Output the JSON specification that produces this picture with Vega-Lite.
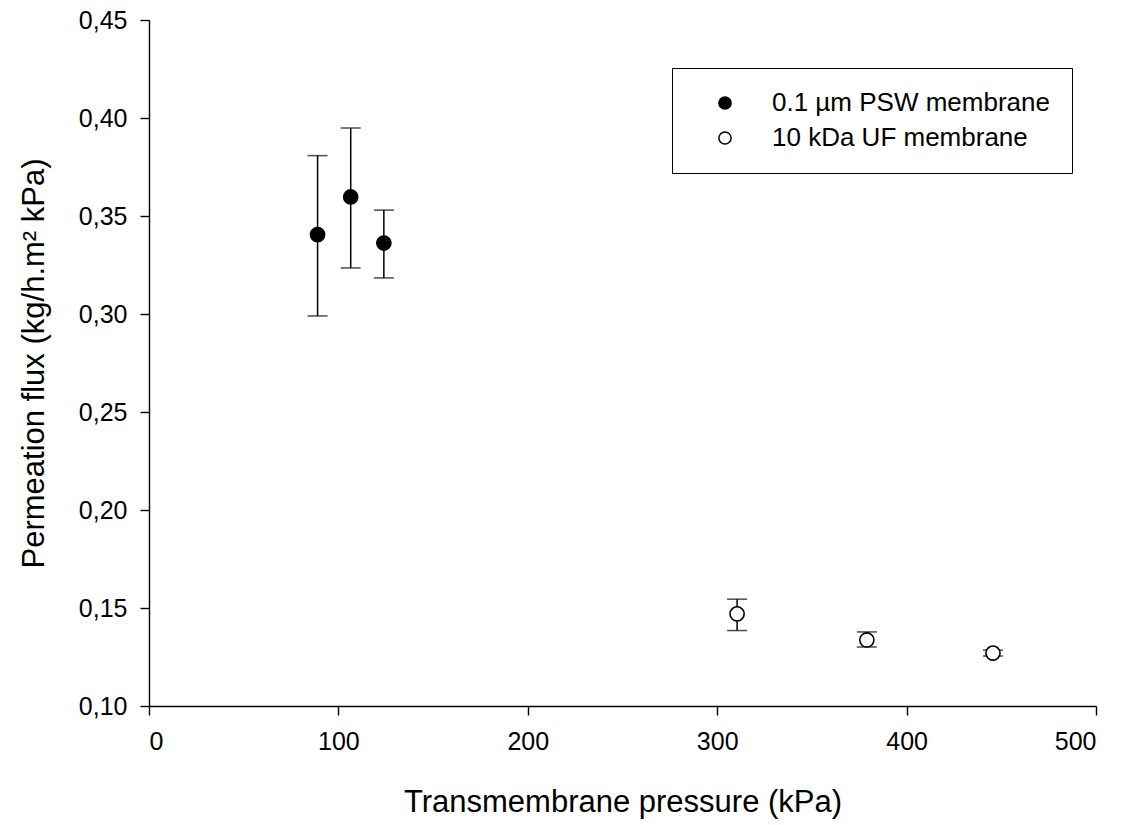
{
  "$schema": "https://vega.github.io/schema/vega-lite/v6.json",
  "autosize": {"type": "none"},
  "padding": {"left": 149, "top": 20, "right": 31, "bottom": 119},
  "width": 947,
  "height": 686,
  "background": "white",
  "config": {
    "font": "Liberation Sans",
    "view": {"stroke": null},
    "axis": {
      "grid": false,
      "domainColor": "black",
      "domainWidth": 1.4,
      "tickColor": "black",
      "tickWidth": 1.4,
      "tickSize": 9,
      "labelColor": "black",
      "labelFontSize": 25,
      "labelFont": "Liberation Sans",
      "titleFont": "Liberation Sans",
      "titleFontSize": 31,
      "titleFontWeight": "normal",
      "titleColor": "black"
    }
  },
  "data": {
    "values": [
      {"membrane": "0.1 µm PSW membrane", "pressure": 89, "flux": 0.3405, "lo": 0.299, "hi": 0.3808},
      {"membrane": "0.1 µm PSW membrane", "pressure": 106.5, "flux": 0.3597, "lo": 0.3235, "hi": 0.3949},
      {"membrane": "0.1 µm PSW membrane", "pressure": 124, "flux": 0.3362, "lo": 0.3184, "hi": 0.353},
      {"membrane": "10 kDa UF membrane", "pressure": 310.5, "flux": 0.147, "lo": 0.1385, "hi": 0.1545},
      {"membrane": "10 kDa UF membrane", "pressure": 379, "flux": 0.1337, "lo": 0.1301, "hi": 0.1378},
      {"membrane": "10 kDa UF membrane", "pressure": 445.6, "flux": 0.127, "lo": 0.1255, "hi": 0.1285}
    ]
  },
  "encoding": {
    "x": {
      "field": "pressure", "type": "quantitative",
      "scale": {"domain": [0, 500], "nice": false, "zero": false},
      "axis": {"values": [0, 100, 200, 300, 400, 500], "title": "Transmembrane pressure (kPa)", "labelPadding": 14, "titlePadding": 33}
    }
  },
  "layer": [
    {
      "mark": {"type": "rule", "color": "black", "strokeWidth": 1.5},
      "encoding": {
        "y": {"field": "lo", "type": "quantitative"},
        "y2": {"field": "hi"}
      }
    },
    {
      "mark": {"type": "tick", "orient": "horizontal", "color": "black", "size": 20, "thickness": 1.5},
      "encoding": {"y": {"field": "hi", "type": "quantitative"}}
    },
    {
      "mark": {"type": "tick", "orient": "horizontal", "color": "black", "size": 20, "thickness": 1.5},
      "encoding": {"y": {"field": "lo", "type": "quantitative"}}
    },
    {
      "mark": {"type": "point", "shape": "circle", "filled": true, "size": 200, "stroke": "black", "strokeWidth": 1.6, "opacity": 1},
      "encoding": {
        "y": {
          "field": "flux", "type": "quantitative",
          "scale": {"domain": [0.1, 0.45], "nice": false, "zero": false},
          "axis": {"values": [0.1, 0.15, 0.2, 0.25, 0.3, 0.35, 0.4, 0.45], "labelExpr": "replace(format(datum.value, '.2f'), '.', ',')", "title": "Permeation flux (kg/h.m² kPa)", "labelPadding": 13, "titlePadding": 28}
        },
        "fill": {
          "field": "membrane", "type": "nominal",
          "scale": {"domain": ["0.1 µm PSW membrane", "10 kDa UF membrane"], "range": ["black", "white"]},
          "legend": {
            "title": null,
            "orient": "none",
            "legendX": 523,
            "legendY": 48,
            "strokeColor": "black",
            "padding": 22,
            "symbolType": "circle",
            "symbolSize": 150,
            "symbolStrokeColor": "black",
            "symbolStrokeWidth": 1.5,
            "symbolOffset": 18,
            "labelFontSize": 26,
            "labelFont": "Liberation Sans",
            "labelColor": "black",
            "labelOffset": 34,
            "rowPadding": 9,
            "labelLimit": 400,
            "encode": {"legend": {"update": {"strokeWidth": {"value": 1.5}}}}
          }
        }
      }
    }
  ]
}
